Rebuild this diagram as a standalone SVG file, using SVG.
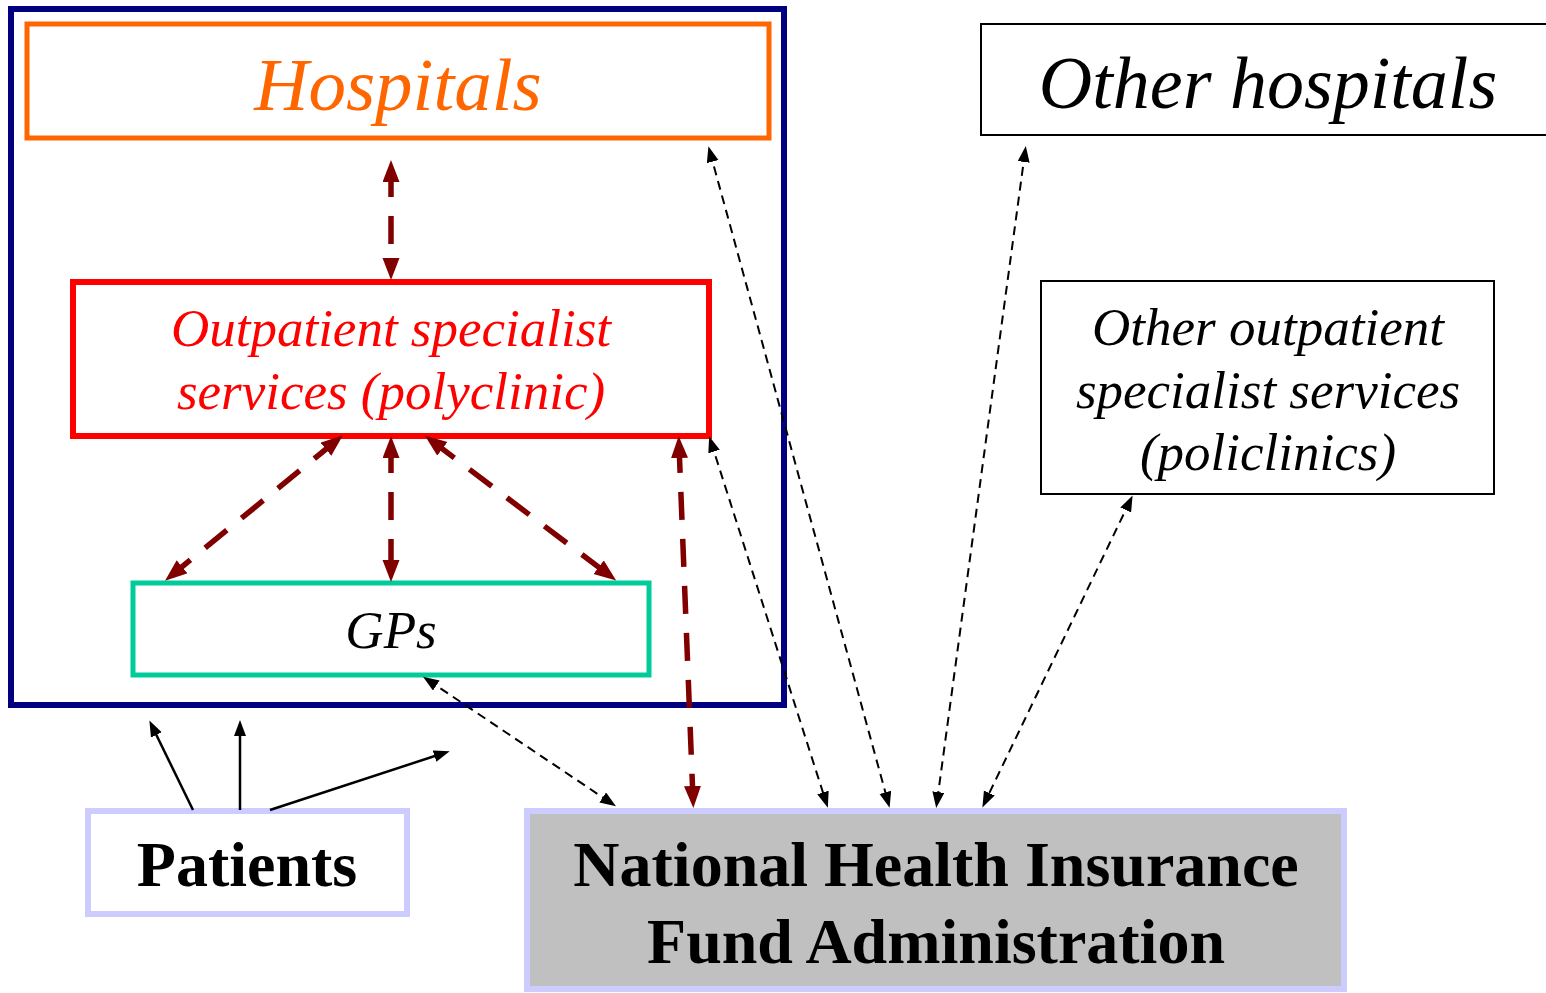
<svg xmlns="http://www.w3.org/2000/svg" width="1546" height="993" viewBox="0 0 1546 993">
  <defs>
    <style>
      .it { font-family: "Liberation Serif", "Times New Roman", serif; font-style: italic; text-anchor: middle; }
      .bd { font-family: "Liberation Serif", "Times New Roman", serif; font-weight: bold; text-anchor: middle; fill: #000; }
      .red { fill: none; stroke: #800000; stroke-width: 5.5; stroke-dasharray: 28 19; marker-start: url(#mr); marker-end: url(#mr); }
      .blk { fill: none; stroke: #000; stroke-width: 2; stroke-dasharray: 9 6; marker-start: url(#mb); marker-end: url(#mb); }
      .sol { fill: none; stroke: #000; stroke-width: 2.5; marker-end: url(#mb); }
    </style>
    <marker id="mr" markerUnits="userSpaceOnUse" markerWidth="24" markerHeight="18" refX="13" refY="8.5" orient="auto-start-reverse">
      <path d="M0,0 L22,8.5 L0,17 z" fill="#800000"/>
    </marker>
    <marker id="mb" markerUnits="userSpaceOnUse" markerWidth="18" markerHeight="13" refX="10" refY="6" orient="auto-start-reverse">
      <path d="M0,0 L16,6 L0,12 z" fill="#000"/>
    </marker>
  </defs>

  <rect width="1546" height="993" fill="#fff"/>

  <!-- enclosing organisation frame -->
  <rect x="11" y="9" width="773" height="696" fill="none" stroke="#000080" stroke-width="6"/>

  <g id="hospitals">
    <rect x="27" y="24" width="742" height="114" fill="#fff" stroke="#FF6600" stroke-width="5"/>
    <text class="it" x="398" y="110" font-size="75" fill="#FF6600">Hospitals</text>
  </g>

  <g id="outpatient">
    <rect x="73" y="282" width="636" height="154" fill="#fff" stroke="#FF0000" stroke-width="6"/>
    <text class="it" x="391" y="346" font-size="53" fill="#FF0000">Outpatient specialist</text>
    <text class="it" x="391" y="409" font-size="53" fill="#FF0000">services (polyclinic)</text>
  </g>

  <g id="gps">
    <rect x="133" y="583" width="516" height="92" fill="#fff" stroke="#00CC99" stroke-width="5"/>
    <text class="it" x="391" y="648" font-size="53" fill="#000">GPs</text>
  </g>

  <g id="other-hospitals">
    <rect x="981" y="24" width="580" height="111" fill="#fff" stroke="#000" stroke-width="2"/>
    <text class="it" x="1268" y="108" font-size="74" fill="#000">Other hospitals</text>
  </g>

  <g id="other-outpatient">
    <rect x="1041" y="281" width="453" height="213" fill="#fff" stroke="#000" stroke-width="2"/>
    <text class="it" x="1268" y="345" font-size="53" fill="#000">Other outpatient</text>
    <text class="it" x="1268" y="408" font-size="53" fill="#000">specialist services</text>
    <text class="it" x="1268" y="470" font-size="53" fill="#000">(policlinics)</text>
  </g>

  <g id="patients">
    <rect x="88" y="811" width="319" height="103" fill="#fff" stroke="#CCCCFF" stroke-width="6"/>
    <text class="bd" x="247" y="886" font-size="64">Patients</text>
  </g>

  <g id="nhifa">
    <rect x="527" y="811" width="817" height="178" fill="#C0C0C0" stroke="#CCCCFF" stroke-width="6"/>
    <text class="bd" x="936" y="886" font-size="64">National Health Insurance</text>
    <text class="bd" x="936" y="963" font-size="64">Fund Administration</text>
  </g>

  <g id="connectors">
    <!-- referral flows inside the organisation -->
    <line class="red" x1="391" y1="169" x2="391" y2="271"/>
    <line class="red" x1="336" y1="441" x2="172" y2="575"/>
    <line class="red" x1="391" y1="445" x2="391" y2="573"/>
    <line class="red" x1="432" y1="441" x2="609" y2="575"/>
    <line class="red" x1="679" y1="445" x2="693" y2="799"/>
    <!-- contracts with the insurance fund -->
    <line class="blk" x1="710" y1="152" x2="888" y2="802"/>
    <line class="blk" x1="711" y1="442" x2="826" y2="802"/>
    <line class="blk" x1="1025" y1="152" x2="937" y2="802"/>
    <line class="blk" x1="1130" y1="501" x2="985" y2="802"/>
    <line class="blk" x1="428" y1="680" x2="611" y2="803"/>
    <!-- patient choice -->
    <line class="sol" x1="193" y1="810" x2="152" y2="726"/>
    <line class="sol" x1="240" y1="810" x2="240" y2="726"/>
    <line class="sol" x1="270" y1="810" x2="444" y2="753"/>
  </g>
</svg>
